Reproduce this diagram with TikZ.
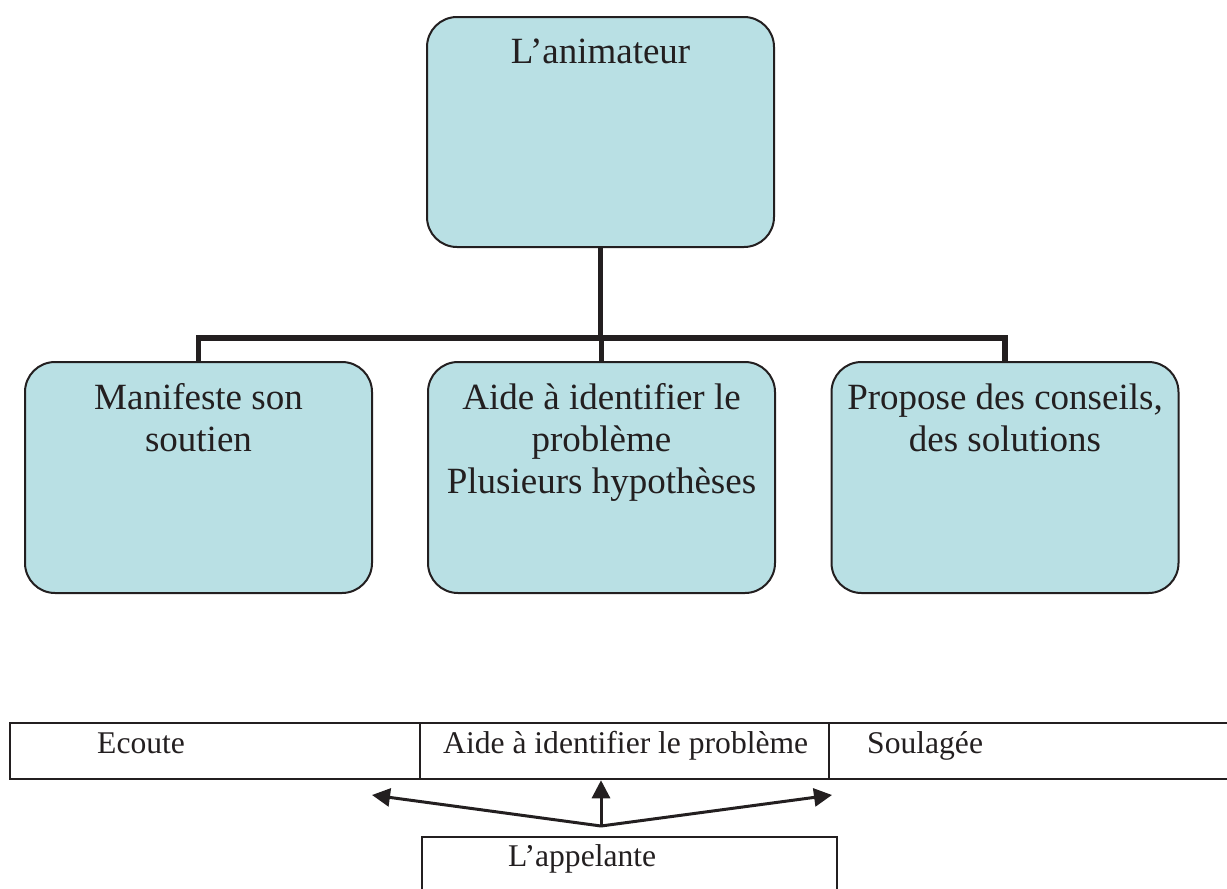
\documentclass[tikz,border=0pt]{standalone}
\usepackage{fontspec}
\setmainfont{Liberation Serif}
\usetikzlibrary{arrows.meta}
\definecolor{boxfill}{RGB}{185,224,228}
\definecolor{ink}{RGB}{35,31,32}
\begin{document}
\begin{tikzpicture}[x=1pt,y=-1pt,
  box/.style={draw=ink, line width=2pt, fill=boxfill, rounded corners=30pt,
    minimum width=347pt, minimum height=231pt, inner sep=0pt},
  big/.style={font=\fontsize{37}{42}\selectfont, text=ink, align=center, inner sep=0pt},
  small/.style={font=\fontsize{31.6}{36}\selectfont, text=ink, inner sep=0pt},
  conn/.style={draw=ink, line width=5.5pt},
  cell/.style={draw=ink, line width=2.5pt, minimum height=56pt, inner sep=0pt},
  arr/.style={draw=ink, line width=3pt, -{Triangle[length=18pt,width=18pt]}}]
\useasboundingbox (0,0) rectangle (1227,889);

% tree
\node[box, minimum height=230pt] (top) at (600.5,132) {};
\node[big, anchor=base] (toptext) at (600.5,63) {L’animateur};

\node[box] (c1) at (198.5,477.5) {};
\node[box] (c2) at (601.5,477.5) {};
\node[box] (c3) at (1005,477.5) {};
\node[big, anchor=base] (c1t) at (198.5,451) {Manifeste son\\soutien};
\node[big, anchor=base] (c2t) at (601.5,493) {Aide à identifier le\\problème\\Plusieurs hypothèses};
\node[big, anchor=base] (c3t) at (1005,451) {Propose des conseils,\\des solutions};

\coordinate (bar) at (601,338);
\draw[conn] (top.south) -- (top.south |- bar);
\draw[conn] (c1.north) -- (c1.north |- bar) -- (c3.north |- bar) -- (c3.north);
\draw[conn] (c2.north |- bar) -- (c2.north);

% table
\node[cell, minimum width=410pt] (t1) at (215,751) {};
\node[cell, minimum width=409pt] (t2) at (624.5,751) {};
\node[cell, minimum width=403pt] (t3) at (1030.5,751) {};
\node[small, anchor=base west] (t1t) at (97,753) {Ecoute};
\node[small, anchor=base west] (t2t) at (443,753) {Aide à identifier le problème};
\node[small, anchor=base west] (t3t) at (867,753) {Soulagée};

\node[cell, minimum width=415pt, minimum height=68pt] (app) at (629.5,871) {};
\node[small, anchor=base west] (appt) at (508,866) {L’appelante};

\coordinate (J) at (601,826);
\coordinate (Lt) at (372,795);
\coordinate (Rt) at (832,795);
\draw[arr] (J) -- (Lt);
\draw[arr] (J) -- (J |- t2.south);
\draw[arr] (J) -- (Rt);
\end{tikzpicture}
\end{document}
